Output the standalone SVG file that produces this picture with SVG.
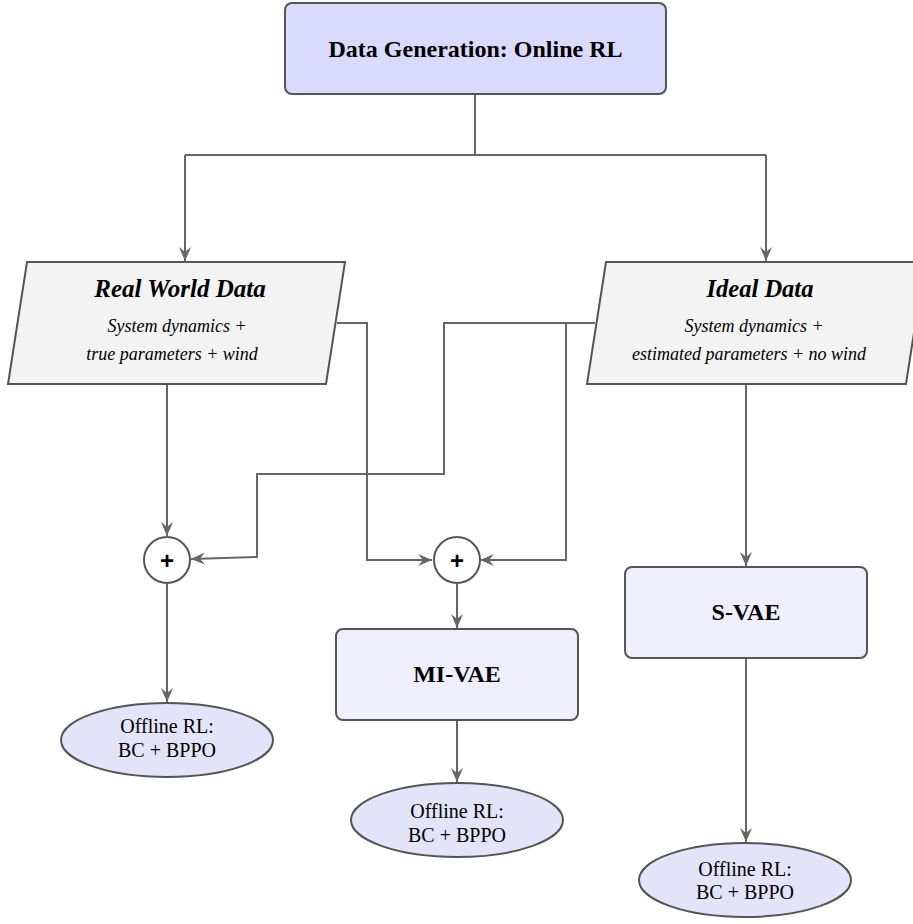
<svg xmlns="http://www.w3.org/2000/svg" width="913" height="924" viewBox="0 0 913 924">
<defs>
<marker id="arr" markerUnits="userSpaceOnUse" markerWidth="15" markerHeight="13" refX="14" refY="6" orient="auto">
<path d="M0,0 L14,6 L0,12 L5,6 Z" fill="#666666"/>
</marker>
<style>
.edge{fill:none;stroke:#666666;stroke-width:2}
.box{stroke:#555555;stroke-width:2}
.t{font-family:"Liberation Serif","Times New Roman",serif;fill:#000;text-anchor:middle}
.b{font-weight:bold}
.i{font-style:italic}
.plus{font-family:"Liberation Sans",Arial,sans-serif;font-size:24px;font-weight:bold;fill:#000;text-anchor:middle}
</style>
</defs>
<rect width="913" height="924" fill="#ffffff"/>
<g id="edges">
<path class="edge" d="M475,94 V155"/>
<path class="edge" d="M185,155 H766"/>
<path class="edge" d="M185,155 V261" marker-end="url(#arr)"/>
<path class="edge" d="M766,155 V261" marker-end="url(#arr)"/>
<path class="edge" d="M167,384 V536" marker-end="url(#arr)"/>
<path class="edge" d="M337,323 H367 V560 H432" marker-end="url(#arr)"/>
<path class="edge" d="M595,323 H444 V474 H257 V557 L191,559" marker-end="url(#arr)"/>
<path class="edge" d="M566,323 V560 H480" marker-end="url(#arr)"/>
<path class="edge" d="M167,583 V702" marker-end="url(#arr)"/>
<path class="edge" d="M457,583 V628" marker-end="url(#arr)"/>
<path class="edge" d="M457,720 V782" marker-end="url(#arr)"/>
<path class="edge" d="M746,384 V566" marker-end="url(#arr)"/>
<path class="edge" d="M746,658 V842" marker-end="url(#arr)"/>
</g>
<g id="online">
<rect class="box" x="285" y="3" width="381" height="91" rx="7" fill="#dadafc"/>
<text class="t b" x="475.5" y="57" font-size="24">Data Generation: Online RL</text>
</g>
<g id="realworld">
<polygon class="box" points="27,262 345,262 326,384 8,384" fill="#f3f3f3"/>
<text class="t b i" x="180" y="297" font-size="25">Real World Data</text>
<text class="t i" x="177" y="332" font-size="18">System dynamics +</text>
<text class="t i" x="172" y="360" font-size="18">true parameters + wind</text>
</g>
<g id="ideal">
<polygon class="box" points="606,262 925,262 906,384 587,384" fill="#f3f3f3"/>
<text class="t b i" x="760" y="297" font-size="24.5">Ideal Data</text>
<text class="t i" x="754" y="332" font-size="18">System dynamics +</text>
<text class="t i" x="749" y="360" font-size="18">estimated parameters + no wind</text>
</g>
<g id="sum1">
<circle class="box" cx="167" cy="560" r="23" fill="#ffffff"/>
<text class="plus" x="167" y="568.5">+</text>
</g>
<g id="sum2">
<circle class="box" cx="457" cy="560" r="23" fill="#ffffff"/>
<text class="plus" x="457" y="568.5">+</text>
</g>
<g id="mivae">
<rect class="box" x="336" y="629" width="242" height="91" rx="7" fill="#eeeefc"/>
<text class="t b" x="457" y="682" font-size="24">MI-VAE</text>
</g>
<g id="svae">
<rect class="box" x="625" y="567" width="242" height="91" rx="7" fill="#eeeefc"/>
<text class="t b" x="746" y="620" font-size="24">S-VAE</text>
</g>
<g id="offline1">
<ellipse class="box" cx="167" cy="740" rx="106" ry="37" fill="#e3e3fa"/>
<text class="t" x="167" y="733" font-size="20">Offline RL:</text>
<text class="t" x="167" y="757" font-size="20">BC + BPPO</text>
</g>
<g id="offline2">
<ellipse class="box" cx="457" cy="820" rx="106" ry="37" fill="#e3e3fa"/>
<text class="t" x="457" y="818" font-size="20">Offline RL:</text>
<text class="t" x="457" y="842" font-size="20">BC + BPPO</text>
</g>
<g id="offline3">
<ellipse class="box" cx="745" cy="880" rx="106" ry="37" fill="#e3e3fa"/>
<text class="t" x="745" y="876" font-size="20">Offline RL:</text>
<text class="t" x="745" y="899" font-size="20">BC + BPPO</text>
</g>
</svg>
